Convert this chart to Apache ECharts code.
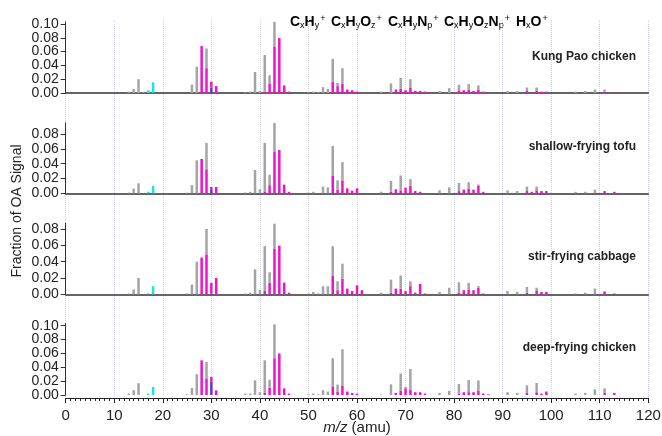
<!DOCTYPE html>
<html>
<head>
<meta charset="utf-8">
<script src="https://cdn.jsdelivr.net/npm/echarts@6/dist/echarts.min.js"></script>
<style>
  html, body { margin: 0; padding: 0; background: #fff; }
  #chart { width: 662px; height: 436px; }
</style>
</head>
<body>
<div id="chart"></div>
<script>
// m/z bins and the four cooking spectra, [m/z, fraction] pairs
const mzMin = 0
const mzMax = 120

const panelNames = ['Kung Pao chicken', 'shallow-frying tofu', 'stir-frying cabbage', 'deep-frying chicken']

// Kung Pao chicken
const kpCH = [[13,0.002],[14,0.006],[15,0.020],[16,0.001],[26,0.012],[27,0.038],[29,0.0285],[37,0.001],[38,0.002],[39,0.0305],[40,0.003],[41,0.053],[42,0.0127],[43,0.0355],[50,0.001],[51,0.002],[52,0.001],[53,0.0085],[54,0.006],[55,0.033],[56,0.0046],[57,0.023],[65,0.002],[67,0.014],[69,0.016],[71,0.012],[77,0.003],[79,0.007],[81,0.008],[83,0.008],[85,0.006],[91,0.003],[93,0.003],[95,0.005],[97,0.005],[105,0.002],[107,0.003],[109,0.005],[111,0.003]]
const kpCHO = [[28,0.068],[29,0.036],[30,0.0085],[31,0.010],[41,0.002],[42,0.013],[43,0.0675],[44,0.0796],[45,0.011],[46,0.002],[55,0.0165],[56,0.010],[57,0.013],[58,0.005],[59,0.004],[60,0.002],[68,0.005],[69,0.006],[70,0.004],[71,0.008],[72,0.003],[73,0.003],[74,0.002],[81,0.004],[82,0.004],[83,0.005],[84,0.003],[85,0.005],[86,0.002],[95,0.003],[97,0.003],[98,0.002],[99,0.002],[111,0.002],[113,0.001]]
const kpCHN = [[30,0.008]]
const kpCHON = []
const kpHO = [[17,0.004],[18,0.0155]]

// shallow-frying tofu
const stCH = [[13,0.001],[14,0.0063],[15,0.0135],[25,0.001],[26,0.011],[27,0.0445],[29,0.0356],[37,0.001],[38,0.002],[39,0.0315],[40,0.0054],[41,0.066],[42,0.014],[43,0.0384],[50,0.001],[51,0.002],[53,0.009],[54,0.008],[55,0.0406],[56,0.0125],[57,0.0245],[65,0.002],[67,0.0146],[69,0.020],[71,0.009],[77,0.004],[79,0.008],[81,0.011],[83,0.009],[85,0.002],[91,0.004],[93,0.003],[95,0.006],[97,0.005],[105,0.002],[107,0.002],[109,0.004]]
const stCHO = [[28,0.0463],[29,0.0324],[30,0.004],[31,0.0085],[41,0.002],[42,0.011],[43,0.0566],[44,0.0584],[45,0.0117],[46,0.002],[55,0.0234],[56,0.005],[57,0.0175],[58,0.0067],[59,0.0036],[60,0.0067],[67,0.002],[68,0.0054],[69,0.004],[70,0.0076],[71,0.010],[72,0.003],[73,0.002],[81,0.003],[82,0.005],[83,0.006],[84,0.005],[85,0.010],[86,0.002],[95,0.003],[96,0.002],[97,0.004],[98,0.003],[99,0.003],[109,0.001],[111,0.003],[113,0.002]]
const stCHN = [[30,0.0045]]
const stCHON = []
const stHO = [[17,0.002],[18,0.0099]]

// stir-frying cabbage
const scCH = [[13,0.001],[14,0.006],[15,0.020],[25,0.001],[26,0.012],[27,0.040],[29,0.031],[37,0.001],[38,0.002],[39,0.0306],[40,0.0057],[41,0.055],[42,0.013],[43,0.031],[50,0.001],[51,0.003],[52,0.001],[53,0.0098],[54,0.0098],[55,0.0366],[56,0.011],[57,0.0185],[65,0.002],[67,0.016],[69,0.016],[71,0.006],[77,0.003],[79,0.008],[81,0.0127],[83,0.008],[85,0.002],[91,0.004],[93,0.003],[95,0.007],[97,0.004],[105,0.001],[107,0.002],[109,0.007],[111,0.001]]
const scCHO = [[28,0.045],[29,0.049],[30,0.013],[31,0.020],[41,0.004],[42,0.014],[43,0.0555],[44,0.0596],[45,0.0143],[46,0.002],[55,0.0224],[56,0.005],[57,0.019],[58,0.007],[59,0.004],[60,0.011],[61,0.005],[67,0.002],[68,0.007],[69,0.007],[70,0.004],[71,0.010],[72,0.002],[73,0.0127],[74,0.001],[81,0.002],[82,0.005],[83,0.006],[84,0.005],[85,0.008],[86,0.001],[95,0.002],[97,0.004],[98,0.003],[99,0.003],[111,0.003],[113,0.001]]
const scCHN = [[30,0.001]]
const scCHON = []
const scHO = [[17,0.001],[18,0.010]]

// deep-frying chicken
const dcCH = [[13,0.002],[14,0.007],[15,0.017],[25,0.001],[26,0.010],[27,0.030],[29,0.0236],[37,0.002],[38,0.002],[39,0.021],[40,0.004],[41,0.047],[42,0.0114],[43,0.049],[50,0.001],[51,0.002],[52,0.001],[53,0.007],[54,0.005],[55,0.0405],[56,0.010],[57,0.053],[65,0.001],[67,0.0154],[69,0.025],[70,0.002],[71,0.0295],[77,0.003],[79,0.006],[81,0.014],[83,0.0176],[85,0.015],[91,0.004],[93,0.003],[95,0.011],[97,0.0133],[105,0.002],[107,0.003],[109,0.008],[111,0.0066]]
const dcCHO = [[28,0.050],[29,0.024],[30,0.0063],[31,0.0067],[41,0.003],[42,0.0106],[43,0.053],[44,0.060],[45,0.0096],[46,0.002],[55,0.0125],[56,0.005],[57,0.013],[58,0.005],[59,0.003],[60,0.002],[68,0.003],[69,0.006],[70,0.0096],[71,0.008],[72,0.004],[73,0.004],[74,0.002],[81,0.002],[82,0.004],[83,0.004],[84,0.004],[85,0.006],[86,0.002],[87,0.001],[95,0.003],[97,0.004],[98,0.002],[99,0.005],[111,0.003],[113,0.003]]
const dcCHN = [[30,0.0197]]
const dcCHON = []
const dcHO = [[17,0.002],[18,0.0115]]

// y tick labels per panel
const yTicksA = [0, 0.02, 0.04, 0.06, 0.08, 0.10]
const yTicksB = [0, 0.02, 0.04, 0.06, 0.08]

const colors = {
  CH: '#a4a4a4',
  CHO: '#ee12cc',
  CHN: '#6b2fd2',
  CHON: '#36e08c',
  HO: '#1ae2ee'
}

// layout of the four stacked panels
const layout = [
  { top: 21.9, height: 71.1, max: 0.103, ticks: yTicksA, titleY: 57 },
  { top: 122.9, height: 70.4, max: 0.095, ticks: yTicksB, titleY: 147 },
  { top: 223.3, height: 71, max: 0.087, ticks: yTicksB, titleY: 257 },
  { top: 323.6, height: 71.4, max: 0.103, ticks: yTicksA, titleY: 348 }
]
const spectra = [
  { CH: kpCH, CHO: kpCHO, CHN: kpCHN, CHON: kpCHON, HO: kpHO },
  { CH: stCH, CHO: stCHO, CHN: stCHN, CHON: stCHON, HO: stHO },
  { CH: scCH, CHO: scCHO, CHN: scCHN, CHON: scCHON, HO: scHO },
  { CH: dcCH, CHO: dcCHO, CHN: dcCHN, CHON: dcCHON, HO: dcHO }
]

// one category per integer m/z, 0..120
const mzCats = []
for (let mz = mzMin; mz <= mzMax; mz++) mzCats.push(String(mz))

// spread sparse pairs over the m/z categories
const dense = pairs => {
  const out = mzCats.map(() => 0)
  pairs.forEach(([mz, v]) => { out[mz - mzMin] = v })
  return out
}

const gridLeft = 65.7
const gridRight = 13.7
const font = 'Liberation Sans, Arial, sans-serif'

const grid = []
const xAxis = []
const yAxis = []
const series = []

layout.forEach((p, i) => {
  const last = i === layout.length - 1
  grid.push({ left: gridLeft, right: gridRight, top: p.top, height: p.height, outerBoundsMode: 'none' })
  xAxis.push({
    type: 'category',
    gridIndex: i,
    data: mzCats,
    boundaryGap: false,
    show: !last,
    axisLine: { show: true, lineStyle: { color: '#333', width: 1.5 } },
    axisTick: { show: false },
    axisLabel: { show: false },
    splitLine: { show: false }
  })
  yAxis.push({
    type: 'value',
    gridIndex: i,
    min: 0,
    max: p.max,
    axisLine: { show: true, lineStyle: { color: '#333', width: 1 } },
    axisTick: { show: true, length: 5, customValues: p.ticks, lineStyle: { color: '#333' } },
    axisLabel: {
      fontSize: 14,
      color: '#222',
      fontFamily: font,
      margin: 7,
      showMinLabel: true,
      showMaxLabel: true,
      hideOverlap: false,
      customValues: p.ticks,
      formatter: v => v.toFixed(2)
    },
    splitLine: { show: false }
  })
  const s = spectra[i]
  // bottom to top of each stacked bar
  ;['HO', 'CHN', 'CHON', 'CHO', 'CH'].forEach(key => {
    series.push({
      type: 'bar',
      name: key,
      xAxisIndex: i,
      yAxisIndex: i,
      stack: 'panel' + i,
      barWidth: 2.5,
      itemStyle: { color: colors[key] },
      data: dense(s[key])
    })
  })
})

// m/z scale shown under the last panel
xAxis.push({
  type: 'value',
  gridIndex: 3,
  position: 'bottom',
  min: mzMin,
  max: mzMax,
  interval: 10,
  offset: 3,
  axisLine: { show: true, onZero: false, lineStyle: { color: '#222', width: 1 } },
  axisTick: { show: true, length: 5, lineStyle: { color: '#222' } },
  minorTick: { show: true, splitNumber: 10, length: 3, lineStyle: { color: '#222' } },
  axisLabel: { fontSize: 15, color: '#222', fontFamily: font, margin: 10 },
  splitLine: { show: false },
  name: '{i|m/z} (amu)',
  nameLocation: 'middle',
  nameGap: 22,
  nameMoveOverlap: false,
  nameTextStyle: {
    fontSize: 15,
    color: '#222',
    fontFamily: font,
    rich: { i: { fontStyle: 'italic', fontSize: 15, color: '#222', fontFamily: font } }
  }
})

// full-height grid that only carries the dotted vertical lines
grid.push({ left: gridLeft, right: gridRight, top: 20, bottom: 436 - 398.3, outerBoundsMode: 'none' })
xAxis.push({
  type: 'value',
  gridIndex: 4,
  min: mzMin,
  max: mzMax,
  interval: 10,
  axisLine: { show: false },
  axisTick: { show: false },
  axisLabel: { show: false },
  splitLine: { show: true, lineStyle: { color: '#cfd0ee', type: 'dotted', width: 1 } }
})
yAxis.push({ type: 'value', gridIndex: 4, show: false, splitLine: { show: false } })

// legend with sub/superscripts
const sub = c => ({ fontSize: 9, color: c, fontFamily: font, verticalAlign: 'bottom', padding: [6, 0, 0, 0] })
const sup = c => ({ fontSize: 9, color: c, fontFamily: font, verticalAlign: 'top', padding: [0, 0, 7, 1] })
const main = c => ({ fontSize: 14, color: c, fontFamily: font, fontWeight: 'bold' })
const legendText = (x, text, c) => ({
  type: 'text',
  left: x,
  top: 14,
  style: {
    text,
    rich: { m: main(c), s: sub(c), p: sup(c) }
  }
})

const graphic = [
  legendText(290, '{m|C}{s|x}{m|H}{s|y}{p|+}', colors.CH),
  legendText(331, '{m|C}{s|x}{m|H}{s|y}{m|O}{s|z}{p|+}', colors.CHO),
  legendText(388, '{m|C}{s|x}{m|H}{s|y}{m|N}{s|p}{p|+}', colors.CHN),
  legendText(444, '{m|C}{s|x}{m|H}{s|y}{m|O}{s|z}{m|N}{s|p}{p|+}', colors.CHON),
  legendText(516, '{m|H}{s|x}{m|O}{p|+}', colors.HO),
  {
    type: 'text',
    x: 17,
    y: 211,
    rotation: Math.PI / 2,
    style: {
      text: 'Fraction of OA Signal',
      fontSize: 14,
      fill: '#222',
      fontFamily: font,
      align: 'center',
      verticalAlign: 'middle'
    }
  }
]
layout.forEach((p, i) => {
  graphic.push({
    type: 'text',
    x: 636,
    y: p.titleY,
    z: 100,
    style: {
      text: panelNames[i],
      fontSize: 12,
      fontWeight: 'bold',
      fill: '#222',
      fontFamily: font,
      align: 'right',
      verticalAlign: 'middle'
    }
  })
})

const chart = echarts.init(document.getElementById('chart'))
chart.setOption({
  animation: false,
  backgroundColor: '#fff',
  grid,
  xAxis,
  yAxis,
  series,
  graphic
})
</script>
</body>
</html>
